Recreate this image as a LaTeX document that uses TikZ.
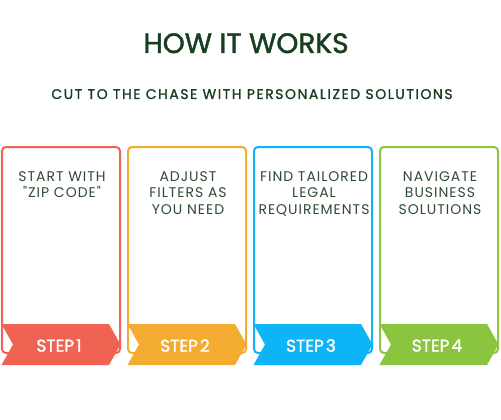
\documentclass[tikz,border=0pt]{standalone}
\usepackage{fontspec}
\setmainfont{Poppins}
\newfontfamily\titlefont[FakeBold=1.6]{Poppins}
\newfontfamily\subfont[FakeBold=1.2,LetterSpace=11]{Poppins}
\newfontfamily\bodyfont[LetterSpace=7]{Poppins}
\newfontfamily\stepfont[FakeBold=1.5]{Poppins}
\definecolor{titlegreen}{HTML}{163E1F}
\definecolor{textgreen}{HTML}{2E4A34}
\definecolor{cred}{HTML}{F06352}
\definecolor{corange}{HTML}{F3AC2F}
\definecolor{cblue}{HTML}{0DB4F6}
\definecolor{cgreen}{HTML}{8BC53F}
\begin{document}
\begin{tikzpicture}[x=1pt,y=-1pt,
  panel/.style={line width=2pt, rounded corners=4pt},
  bodytext/.style={text=textgreen, font=\bodyfont\fontsize{14}{16.5}\selectfont, align=center},
  steptext/.style={text=white, font=\stepfont\fontsize{17}{20}\selectfont, anchor=center}]
\useasboundingbox (0,0) rectangle (501,420);
\node[text=titlegreen, font=\titlefont\fontsize{28}{30}\selectfont, anchor=base] (title) at (246,53) {HOW IT WORKS};
\node[text=titlegreen, font=\subfont\fontsize{14}{16}\selectfont, anchor=base] (subtitle) at (252,99) {CUT TO THE CHASE WITH PERSONALIZED SOLUTIONS};
\foreach \i/\xl/\col/\txt in {1/2/cred/{START WITH\\"ZIP CODE"},2/128/corange/{ADJUST\\FILTERS AS\\YOU NEED},3/254/cblue/{FIND TAILORED\\LEGAL\\REQUIREMENTS},4/380/cgreen/{NAVIGATE\\BUSINESS\\SOLUTIONS}}{
  \draw[panel, draw=\col] (\xl,147) rectangle ++(118,206);
  \fill[\col] (\xl-0.5,324) -- (\xl+107,324) -- (\xl+118.5,344.5) -- (\xl+107,365) -- (\xl-0.5,365) -- (\xl+11,344.5) -- cycle;
  \node[steptext] (s\i) at (\xl+57,345.5) {STEP\hspace{0.12em}\i};
  \node[bodytext, anchor=north] (t\i) at (\xl+60,168) {\txt};
}
\end{tikzpicture}
\end{document}
